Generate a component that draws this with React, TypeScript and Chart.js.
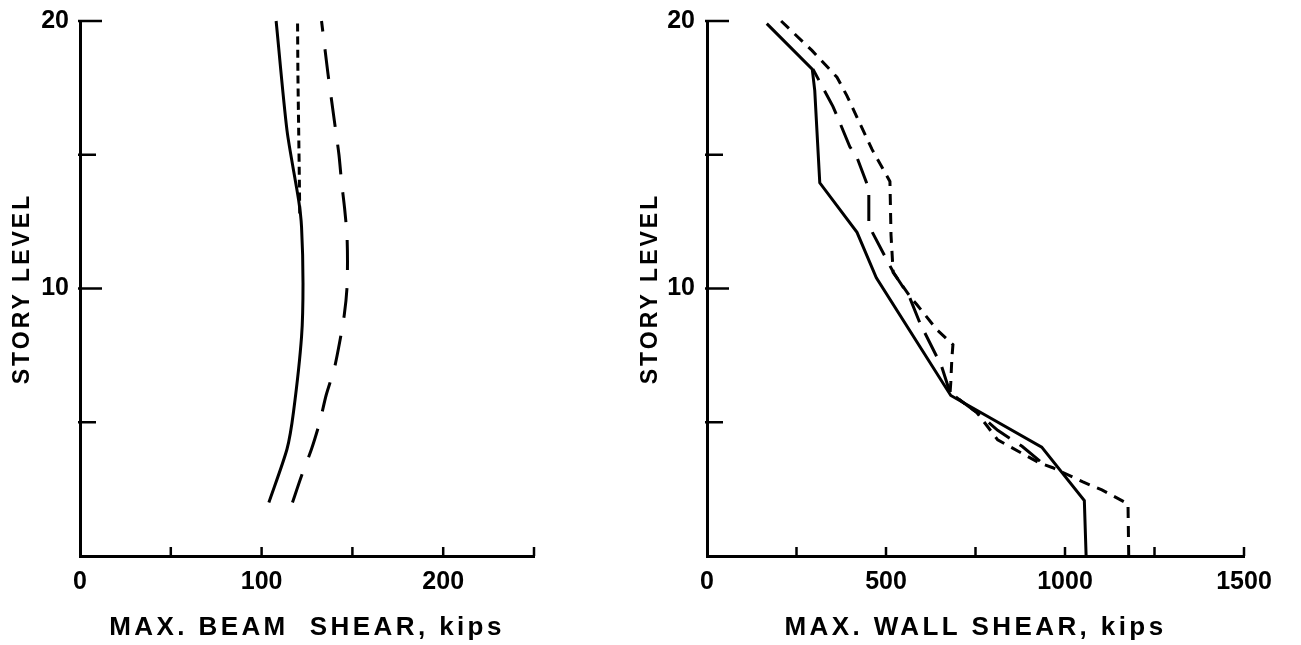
import React, { useEffect, useRef } from "react";
import { Chart, registerables } from "chart.js";

Chart.register(...registerables);

// ---------- Left panel: MAX. BEAM SHEAR ----------
const beamXTickLabels = [0, 100, 200];
const beamSolidStory = [2, 4, 5.4, 8.2, 10.2, 12.3, 13.3, 15.9, 20];
const beamSolidShear = [104, 114, 117.6, 122, 122.8, 122, 120.4, 114, 108];

const beamShortDashStory = [12.8, 14, 16, 18, 20];
const beamShortDashShear = [121, 120.8, 120.4, 120, 119.8];

const beamLongDashStory = [2, 3, 4, 5, 6, 7, 8, 9, 10, 11, 12, 13, 14, 15, 16, 17, 18, 19, 20];
const beamLongDashShear = [117, 122, 127.5, 132, 135.5, 140, 143, 145.5, 147, 147.3, 147, 145.7, 144, 142.6, 140.6, 138.6, 136.6, 134.8, 133];

// ---------- Right panel: MAX. WALL SHEAR ----------
const wallXTickLabels = [0, 500, 1000, 1500];
const wallSolidStory = [0, 2.07, 4.07, 6.0, 10.4, 12.1, 13.95, 17.4, 18.2, 19.9];
const wallSolidShear = [1059, 1054, 935, 681, 473, 419, 315, 301, 294, 167];

const wallShortDashStory = [0, 1.95, 2.47, 2.77, 3.3, 3.47, 4.14, 4.34, 5.36, 6.1, 6.5, 7.4, 7.9, 8.46, 9.4, 9.7, 10.6, 12, 14.0, 15.2, 16.4, 17.2, 17.9, 18.9, 20];
const wallShortDashShear = [1178, 1176, 1103, 1050, 966, 930, 839, 812, 754, 679, 681, 684, 687, 642, 586, 567, 520, 514, 511, 461, 419, 391, 363, 293, 207];

const wallLongDashStory = [3.55, 4.1, 4.7, 5.36, 6.1, 7.1, 8.7, 9.7, 10.6, 11.0, 12.1, 12.4, 13.6, 13.8, 14.9, 15.3, 16.2, 16.8, 18.2];
const wallLongDashShear = [930, 880, 812, 754, 679, 655, 595, 565, 521, 505, 462, 452, 452, 450, 419, 399, 371, 352, 296];

const FONT = "'Liberation Sans', 'DejaVu Sans', sans-serif";

// Axis titles of the original are hand-lettered with wide spacing.
const titleSpacingPlugin = {
  id: "titleSpacing",
  beforeDraw(chart: any) {
    Object.values(chart.scales).forEach((s: any) => {
      if (s.__spaced) return;
      const orig = s.drawTitle;
      s.drawTitle = function (...args: any[]) {
        const ctx = this.ctx as any;
        const prev = ctx.letterSpacing;
        ctx.letterSpacing = this.axis === "x" ? "3.4px" : "3px";
        orig.apply(this, args);
        ctx.letterSpacing = prev;
      };
      s.__spaced = true;
    });
  },
};

function inwardTicks(xLen: number, yMajor: number, yMinor: number) {
  return {
    id: "inwardTicks",
    afterDraw(chart: any) {
      const { ctx, chartArea } = chart;
      const xs = chart.scales.x;
      const ys = chart.scales.y;
      ctx.save();
      ctx.strokeStyle = "#000";
      ctx.lineWidth = 2.5;
      xs.ticks.forEach((t: any) => {
        if (t.value === xs.min) return;
        const px = xs.getPixelForValue(t.value);
        ctx.beginPath();
        ctx.moveTo(px, chartArea.bottom);
        ctx.lineTo(px, chartArea.bottom - xLen);
        ctx.stroke();
      });
      ys.ticks.forEach((t: any) => {
        if (t.value === ys.min) return;
        const py = ys.getPixelForValue(t.value);
        const len = t.value % 10 === 0 ? yMajor : yMinor;
        ctx.beginPath();
        ctx.moveTo(chartArea.left - 2, py);
        ctx.lineTo(chartArea.left + len, py);
        ctx.stroke();
      });
      ctx.restore();
    },
  };
}

type Series = { story: number[]; shear: number[]; dash: number[]; tension: number };

type Panel = {
  series: Series[];
  xMax: number;
  xStep: number;
  xLabels: number[];
  xTitle: string;
  yWidth: number;
  padRight: number;
  yTitlePad: number;
  yLabelPad: number;
};

function makeConfig(p: Panel): any {
  return {
    type: "scatter",
    data: {
      datasets: p.series.map((s) => ({
        data: s.story.map((y, i) => ({ x: s.shear[i], y })),
        showLine: true,
        borderColor: "#000",
        backgroundColor: "#000",
        borderWidth: 3,
        borderDash: s.dash,
        pointRadius: 0,
        fill: false,
        tension: s.tension,
        clip: false,
      })),
    },
    options: {
      animation: false,
      responsive: false,
      maintainAspectRatio: false,
      layout: { padding: { left: 0, top: 21, right: p.padRight, bottom: 0 } },
      plugins: { legend: { display: false }, tooltip: { enabled: false } },
      scales: {
        x: {
          type: "linear",
          min: 0,
          max: p.xMax,
          ticks: {
            stepSize: p.xStep,
            autoSkip: false,
            maxRotation: 0,
            padding: 3,
            color: "#000",
            font: { family: FONT, size: 25, weight: "bold" },
            callback: (v: number) => (p.xLabels.includes(v) ? String(v) : ""),
          },
          grid: { display: false },
          border: { display: true, color: "#000", width: 3 },
          title: {
            display: true,
            text: p.xTitle,
            color: "#000",
            font: { family: FONT, size: 26, weight: "bold" },
            padding: { top: 0, bottom: 2 },
          },
          afterFit: (s: any) => {
            s.height = 89;
            s.paddingLeft = 0;
            s.paddingRight = 0;
          },
        },
        y: {
          type: "linear",
          min: 0,
          max: 20,
          ticks: {
            stepSize: 5,
            padding: p.yLabelPad,
            color: "#000",
            font: { family: FONT, size: 25, weight: "bold" },
            callback: (v: number) => (v === 10 || v === 20 ? String(v) : ""),
          },
          grid: { display: false },
          border: { display: true, color: "#000", width: 3 },
          title: {
            display: true,
            text: "STORY LEVEL",
            color: "#000",
            font: { family: FONT, size: 23, weight: "bold" },
            padding: { top: p.yTitlePad, bottom: 0 },
          },
          afterFit: (s: any) => {
            s.width = p.yWidth;
            s.paddingTop = 0;
            s.paddingBottom = 0;
          },
        },
      },
    },
    plugins: [titleSpacingPlugin, inwardTicks(9, 22, 16)],
  };
}

const beamPanel: Panel = {
  series: [
    { story: beamSolidStory, shear: beamSolidShear, dash: [], tension: 0.25 },
    { story: beamShortDashStory, shear: beamShortDashShear, dash: [8, 5], tension: 0.2 },
    { story: beamLongDashStory, shear: beamLongDashShear, dash: [30, 18], tension: 0.25 },
  ],
  xMax: 250,
  xStep: 50,
  xLabels: beamXTickLabels,
  xTitle: "MAX. BEAM  SHEAR, kips",
  yWidth: 80,
  padRight: 620 - 534,
  yTitlePad: 9,
  yLabelPad: 3,
};

const wallPanel: Panel = {
  series: [
    { story: wallSolidStory, shear: wallSolidShear, dash: [], tension: 0 },
    { story: wallShortDashStory, shear: wallShortDashShear, dash: [11, 8], tension: 0 },
    { story: wallLongDashStory, shear: wallLongDashShear, dash: [26, 12], tension: 0 },
  ],
  xMax: 1500,
  xStep: 250,
  xLabels: wallXTickLabels,
  xTitle: "MAX. WALL SHEAR, kips",
  yWidth: 87,
  padRight: 681 - 1244 + 620,
  yTitlePad: 17,
  yLabelPad: 4,
};

function ChartCanvas({ panel, left, width }: { panel: Panel; left: number; width: number }) {
  const ref = useRef<HTMLCanvasElement | null>(null);
  useEffect(() => {
    if (!ref.current) return;
    const chart = new Chart(ref.current, makeConfig(panel));
    return () => chart.destroy();
  }, [panel]);
  return (
    <canvas
      ref={ref}
      width={width}
      height={645}
      style={{ position: "absolute", left, top: 0, width, height: 645 }}
    />
  );
}

export default function App() {
  return (
    <div style={{ position: "fixed", left: 0, top: 0, width: 1301, height: 645, background: "#fff", overflow: "hidden" }}>
      <ChartCanvas panel={beamPanel} left={0} width={620} />
      <ChartCanvas panel={wallPanel} left={620} width={681} />
    </div>
  );
}
